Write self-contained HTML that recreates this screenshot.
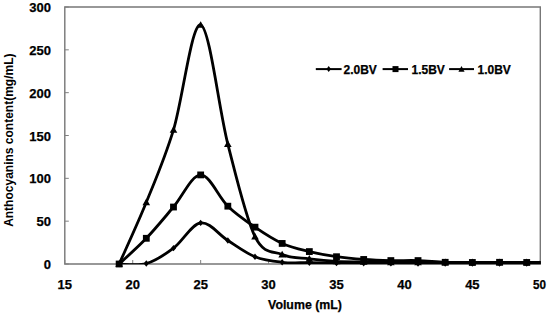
<!DOCTYPE html>
<html><head><meta charset="utf-8"><style>
html,body{margin:0;padding:0;background:#fff;}
body{width:550px;height:317px;overflow:hidden;}
svg{display:block;}
.t{font-family:"Liberation Sans",sans-serif;font-weight:bold;font-size:13px;fill:#000;stroke:#000;stroke-width:0.25px;}
.l{font-family:"Liberation Sans",sans-serif;font-weight:bold;font-size:12px;fill:#000;stroke:#000;stroke-width:0.25px;}
.a{font-family:"Liberation Sans",sans-serif;font-weight:bold;font-size:12px;fill:#000;stroke:#000;stroke-width:0.25px;}
</style></head><body>
<svg width="550" height="317" viewBox="0 0 550 317">
<path d="M64.8,7.0V264.0H540.3V7.0Z" fill="none" stroke="#777" stroke-width="1.4"/>
<line x1="64.8" y1="264.00" x2="68.8" y2="264.00" stroke="#808080"/>
<text x="51" y="269.00" text-anchor="end" class="t">0</text>
<line x1="64.8" y1="221.17" x2="68.8" y2="221.17" stroke="#808080"/>
<text x="51" y="226.17" text-anchor="end" class="t">50</text>
<line x1="64.8" y1="178.33" x2="68.8" y2="178.33" stroke="#808080"/>
<text x="51" y="183.33" text-anchor="end" class="t">100</text>
<line x1="64.8" y1="135.50" x2="68.8" y2="135.50" stroke="#808080"/>
<text x="51" y="140.50" text-anchor="end" class="t">150</text>
<line x1="64.8" y1="92.67" x2="68.8" y2="92.67" stroke="#808080"/>
<text x="51" y="97.67" text-anchor="end" class="t">200</text>
<line x1="64.8" y1="49.83" x2="68.8" y2="49.83" stroke="#808080"/>
<text x="51" y="54.83" text-anchor="end" class="t">250</text>
<line x1="64.8" y1="7.00" x2="68.8" y2="7.00" stroke="#808080"/>
<text x="51" y="12.00" text-anchor="end" class="t">300</text>
<line x1="64.80" y1="264.0" x2="64.80" y2="260.0" stroke="#808080"/>
<text x="64.80" y="289" text-anchor="middle" class="t">15</text>
<line x1="132.73" y1="264.0" x2="132.73" y2="260.0" stroke="#808080"/>
<text x="132.73" y="289" text-anchor="middle" class="t">20</text>
<line x1="200.66" y1="264.0" x2="200.66" y2="260.0" stroke="#808080"/>
<text x="200.66" y="289" text-anchor="middle" class="t">25</text>
<line x1="268.59" y1="264.0" x2="268.59" y2="260.0" stroke="#808080"/>
<text x="268.59" y="289" text-anchor="middle" class="t">30</text>
<line x1="336.51" y1="264.0" x2="336.51" y2="260.0" stroke="#808080"/>
<text x="336.51" y="289" text-anchor="middle" class="t">35</text>
<line x1="404.44" y1="264.0" x2="404.44" y2="260.0" stroke="#808080"/>
<text x="404.44" y="289" text-anchor="middle" class="t">40</text>
<line x1="472.37" y1="264.0" x2="472.37" y2="260.0" stroke="#808080"/>
<text x="472.37" y="289" text-anchor="middle" class="t">45</text>
<line x1="540.30" y1="264.0" x2="540.30" y2="260.0" stroke="#808080"/>
<text x="533" y="289" class="t" textLength="13" lengthAdjust="spacingAndGlyphs">50</text>
<defs><clipPath id="pc"><rect x="64.8" y="0" width="475.8" height="264.3"/></clipPath></defs>
<path clip-path="url(#pc)" d="M119.14,264.00 C123.67,263.93 137.26,266.21 146.31,263.57 C155.37,260.93 164.43,254.93 173.49,248.15 C182.54,241.37 191.60,224.16 200.66,222.88 C209.71,221.59 218.77,234.80 227.83,240.44 C236.89,246.08 245.94,253.08 255.00,256.72 C264.06,260.36 273.11,261.29 282.17,262.29 C291.23,263.29 300.29,262.57 309.34,262.71 C318.40,262.86 327.46,263.04 336.51,263.14 C345.57,263.24 354.63,263.27 363.69,263.31 C372.74,263.36 381.80,263.37 390.86,263.40 C399.91,263.43 408.97,263.46 418.03,263.49 C427.09,263.51 436.14,263.56 445.20,263.57 C454.26,263.59 463.31,263.57 472.37,263.57 C481.43,263.57 490.49,263.57 499.54,263.57 C508.60,263.57 517.66,263.57 526.71,263.57 C535.77,263.57 549.36,263.57 553.89,263.57" fill="none" stroke="#000" stroke-width="2.8" stroke-linejoin="round"/>
<g fill="#000"><path d="M119.14,260.80l2.60,3.20l-2.60,3.20l-2.60,-3.20z"/><path d="M146.31,260.37l2.60,3.20l-2.60,3.20l-2.60,-3.20z"/><path d="M173.49,244.95l2.60,3.20l-2.60,3.20l-2.60,-3.20z"/><path d="M200.66,219.68l2.60,3.20l-2.60,3.20l-2.60,-3.20z"/><path d="M227.83,237.24l2.60,3.20l-2.60,3.20l-2.60,-3.20z"/><path d="M255.00,253.52l2.60,3.20l-2.60,3.20l-2.60,-3.20z"/><path d="M282.17,259.09l2.60,3.20l-2.60,3.20l-2.60,-3.20z"/><path d="M309.34,259.51l2.60,3.20l-2.60,3.20l-2.60,-3.20z"/><path d="M336.51,259.94l2.60,3.20l-2.60,3.20l-2.60,-3.20z"/><path d="M363.69,260.11l2.60,3.20l-2.60,3.20l-2.60,-3.20z"/><path d="M390.86,260.20l2.60,3.20l-2.60,3.20l-2.60,-3.20z"/><path d="M418.03,260.29l2.60,3.20l-2.60,3.20l-2.60,-3.20z"/><path d="M445.20,260.37l2.60,3.20l-2.60,3.20l-2.60,-3.20z"/><path d="M472.37,260.37l2.60,3.20l-2.60,3.20l-2.60,-3.20z"/><path d="M499.54,260.37l2.60,3.20l-2.60,3.20l-2.60,-3.20z"/><path d="M526.71,260.37l2.60,3.20l-2.60,3.20l-2.60,-3.20z"/></g>
<path clip-path="url(#pc)" d="M119.14,264.00 C123.67,259.72 137.26,247.79 146.31,238.30 C155.37,228.81 164.43,217.60 173.49,207.03 C182.54,196.47 191.60,175.05 200.66,174.91 C209.71,174.76 218.77,197.47 227.83,206.18 C236.89,214.88 245.94,220.95 255.00,227.16 C264.06,233.37 273.11,239.37 282.17,243.44 C291.23,247.51 300.29,249.37 309.34,251.58 C318.40,253.79 327.46,255.40 336.51,256.72 C345.57,258.03 354.63,258.82 363.69,259.46 C372.74,260.10 381.80,260.39 390.86,260.57 C399.91,260.76 408.97,260.29 418.03,260.57 C427.09,260.86 436.14,261.97 445.20,262.29 C454.26,262.60 463.31,262.46 472.37,262.46 C481.43,262.46 490.49,262.29 499.54,262.29 C508.60,262.29 517.66,262.43 526.71,262.46 C535.77,262.49 549.36,262.46 553.89,262.46" fill="none" stroke="#000" stroke-width="2.8" stroke-linejoin="round"/>
<g fill="#000"><rect x="115.74" y="260.60" width="6.80" height="6.80"/><rect x="142.91" y="234.90" width="6.80" height="6.80"/><rect x="170.09" y="203.63" width="6.80" height="6.80"/><rect x="197.26" y="171.51" width="6.80" height="6.80"/><rect x="224.43" y="202.78" width="6.80" height="6.80"/><rect x="251.60" y="223.76" width="6.80" height="6.80"/><rect x="278.77" y="240.04" width="6.80" height="6.80"/><rect x="305.94" y="248.18" width="6.80" height="6.80"/><rect x="333.11" y="253.32" width="6.80" height="6.80"/><rect x="360.29" y="256.06" width="6.80" height="6.80"/><rect x="387.46" y="257.17" width="6.80" height="6.80"/><rect x="414.63" y="257.17" width="6.80" height="6.80"/><rect x="441.80" y="258.89" width="6.80" height="6.80"/><rect x="468.97" y="259.06" width="6.80" height="6.80"/><rect x="496.14" y="258.89" width="6.80" height="6.80"/><rect x="523.31" y="259.06" width="6.80" height="6.80"/></g>
<path clip-path="url(#pc)" d="M119.14,264.00 C123.67,253.72 137.26,224.66 146.31,202.32 C155.37,179.98 164.43,159.49 173.49,129.93 C182.54,100.38 191.60,22.63 200.66,24.99 C209.71,27.35 218.77,108.80 227.83,144.07 C236.89,179.33 245.94,218.17 255.00,236.59 C264.06,255.00 273.11,250.86 282.17,254.58 C291.23,258.29 300.29,257.72 309.34,258.86 C318.40,260.00 327.46,260.93 336.51,261.43 C345.57,261.93 354.63,261.72 363.69,261.86 C372.74,262.00 381.80,262.22 390.86,262.29 C399.91,262.36 408.97,262.29 418.03,262.29 C427.09,262.29 436.14,262.29 445.20,262.29 C454.26,262.29 463.31,262.29 472.37,262.29 C481.43,262.29 490.49,262.29 499.54,262.29 C508.60,262.29 517.66,262.29 526.71,262.29 C535.77,262.29 549.36,262.29 553.89,262.29" fill="none" stroke="#000" stroke-width="2.8" stroke-linejoin="round"/>
<g fill="#000"><path d="M119.14,260.20L122.94,266.85L115.34,266.85z"/><path d="M146.31,198.52L150.11,205.17L142.51,205.17z"/><path d="M173.49,126.13L177.29,132.78L169.69,132.78z"/><path d="M200.66,21.19L204.46,27.84L196.86,27.84z"/><path d="M227.83,140.27L231.63,146.92L224.03,146.92z"/><path d="M255.00,232.79L258.80,239.44L251.20,239.44z"/><path d="M282.17,250.78L285.97,257.43L278.37,257.43z"/><path d="M309.34,255.06L313.14,261.71L305.54,261.71z"/><path d="M336.51,257.63L340.31,264.28L332.71,264.28z"/><path d="M363.69,258.06L367.49,264.71L359.89,264.71z"/><path d="M390.86,258.49L394.66,265.14L387.06,265.14z"/><path d="M418.03,258.49L421.83,265.14L414.23,265.14z"/><path d="M445.20,258.49L449.00,265.14L441.40,265.14z"/><path d="M472.37,258.49L476.17,265.14L468.57,265.14z"/><path d="M499.54,258.49L503.34,265.14L495.74,265.14z"/><path d="M526.71,258.49L530.51,265.14L522.91,265.14z"/></g>
<line x1="315.8" y1="69.1" x2="341.6" y2="69.1" stroke="#000" stroke-width="2"/>
<g fill="#000"><path d="M328.70,66.10l2.20,3.00l-2.20,3.00l-2.20,-3.00z"/></g>
<text x="343.5" y="73.6" class="l">2.0BV</text>
<line x1="382.6" y1="69.1" x2="408" y2="69.1" stroke="#000" stroke-width="2"/>
<g fill="#000"><rect x="392.50" y="66.10" width="6.00" height="6.00"/></g>
<text x="411.5" y="73.6" class="l">1.5BV</text>
<line x1="449.1" y1="69.1" x2="474" y2="69.1" stroke="#000" stroke-width="2"/>
<g fill="#000"><path d="M461.50,66.00L464.60,71.80L458.40,71.80z"/></g>
<text x="477.5" y="73.6" class="l">1.0BV</text>
<text x="305" y="308.6" text-anchor="middle" class="a" style="font-size:12.35px">Volume (mL)</text>
<text transform="translate(13.4,140.2) rotate(-90)" text-anchor="middle" class="a" style="stroke-width:0">Anthocyanins content(mg/mL)</text>
</svg>
</body></html>
